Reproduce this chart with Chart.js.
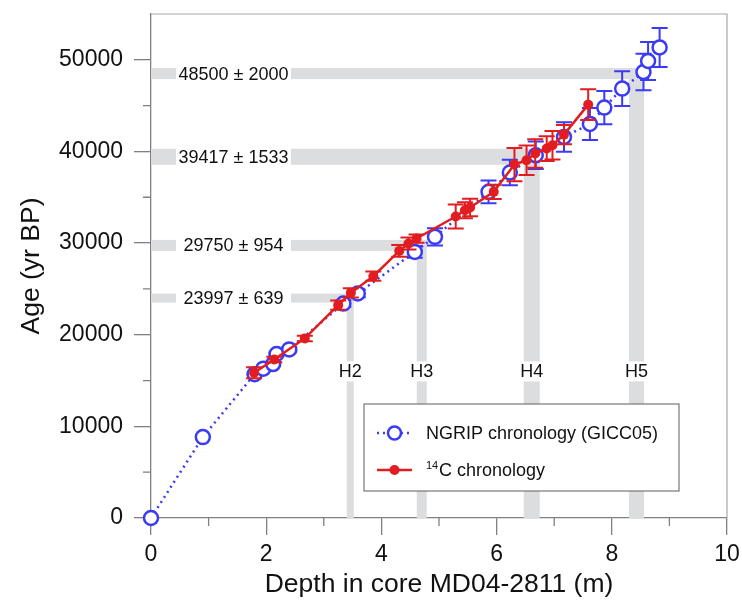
<!DOCTYPE html>
<html>
<head>
<meta charset="utf-8">
<script src="https://cdn.jsdelivr.net/npm/chart.js@4.4.1/dist/chart.umd.min.js"></script>
<style>
  html, body { margin: 0; padding: 0; background: #fff; }
  canvas { display: block; }
</style>
</head>
<body>
<canvas id="chart" width="742" height="606"></canvas>
<script>
// NGRIP chronology (GICC05) tie points
const ngripDepth = [0, 0.90, 1.80, 1.95, 2.12, 2.18, 2.40, 3.34, 3.59, 4.58, 4.93, 5.86, 6.23, 6.68, 7.17, 7.62, 7.87, 8.18, 8.55, 8.63, 8.83];
const ngripAge   = [0, 8830, 15700, 16300, 16800, 17900, 18400, 23400, 24500, 29040, 30680, 35590, 37700, 39580, 41580, 43000, 44790, 46860, 48670, 49870, 51350];
const ngripErr   = [0, 0, 100, 100, 150, 150, 200, 350, 400, 650, 950, 1250, 1400, 1500, 1600, 1750, 1820, 1900, 2000, 2070, 2130];

// 14C chronology
const c14Depth = [1.79, 2.14, 2.67, 3.25, 3.47, 3.86, 4.31, 4.47, 4.61, 5.29, 5.45, 5.54, 5.95, 6.31, 6.52, 6.67, 6.87, 6.97, 7.17, 7.59];
const c14Age   = [15850, 17300, 19600, 23230, 24570, 26390, 29150, 29960, 30500, 32900, 33590, 33880, 35590, 38570, 39040, 39770, 40320, 40680, 41840, 45110];
const c14Err   = [600, 300, 300, 500, 500, 500, 650, 650, 450, 1300, 870, 950, 780, 1820, 1600, 1550, 1350, 1550, 1050, 1690];

// Heinrich events
const eventNames  = ['H2', 'H3', 'H4', 'H5'];
const eventDepth  = [3.46, 4.70, 6.61, 8.43];
const eventAge    = [23997, 29750, 39417, 48500];
const eventAgeErr = [639, 954, 1533, 2000];

const xTicks = [0, 2, 4, 6, 8, 10];
const yTicks = [0, 10000, 20000, 30000, 40000, 50000];
const xMinorTicks = [1, 3, 5, 7, 9];
const yMinorTicks = [5000, 15000, 25000, 35000, 45000];

// styling
const FONT = "'Liberation Sans', Arial, Helvetica, sans-serif";
const BLUE = '#3b3bf5';
const RED = '#e21d1f';
const BAND = '#dcdddf';
const hBandPx = [9, 11, 16, 11];
const vBandPx = [7, 10, 16, 15];

function toPoints(xs, ys) {
    return xs.map((x, i) => ({ x: x, y: ys[i] }));
}

function noEdgePadding(scale) {
    scale.paddingTop = 0;
    scale.paddingBottom = 0;
    scale.paddingLeft = 0;
    scale.paddingRight = 0;
}

const bandsPlugin = {
    id: 'bands',
    beforeDatasetsDraw(chart) {
        const { ctx, chartArea, scales } = chart;
        const xs = scales.x, ys = scales.y;
        ctx.save();
        ctx.fillStyle = BAND;
        eventAge.forEach((age, i) => {
            const yc = ys.getPixelForValue(age);
            const xc = xs.getPixelForValue(eventDepth[i]);
            const hh = hBandPx[i], vw = vBandPx[i];
            // horizontal band from axis to the event column
            ctx.fillRect(chartArea.left, yc - hh / 2, xc + vw / 2 - chartArea.left, hh);
            // vertical band from bottom up to the horizontal band
            ctx.fillRect(xc - vw / 2, yc - hh / 2, vw, chartArea.bottom - (yc - hh / 2));
        });
        // labels with white gaps
        ctx.font = '18px ' + FONT;
        ctx.textBaseline = 'middle';
        ctx.textAlign = 'center';
        eventAge.forEach((age, i) => {
            const yc = ys.getPixelForValue(age);
            const gx0 = chartArea.left + 25, gx1 = chartArea.left + 140;
            ctx.fillStyle = '#fff';
            ctx.fillRect(gx0, yc - 9, gx1 - gx0, 18);
            ctx.fillStyle = '#111';
            ctx.fillText(age + ' \u00b1 ' + eventAgeErr[i], (gx0 + gx1) / 2, yc + 1);

            const xc = xs.getPixelForValue(eventDepth[i]);
            const ly = ys.getPixelForValue(16000);
            ctx.fillStyle = '#fff';
            ctx.fillRect(xc - 12, ly - 10, 24, 20);
            ctx.fillStyle = '#111';
            ctx.fillText(eventNames[i], xc, ly + 1);
        });
        ctx.restore();
    }
};

const errorBarsPlugin = {
    id: 'errorBars',
    beforeDatasetDraw(chart, args) {
        const ds = chart.data.datasets[args.index];
        if (!ds.err) return;
        const { ctx, scales } = chart;
        ctx.save();
        ctx.strokeStyle = ds.borderColor;
        ctx.lineWidth = 2;
        ds.data.forEach((p, i) => {
            const e = ds.err[i];
            if (!e) return;
            const x = scales.x.getPixelForValue(p.x);
            const y0 = scales.y.getPixelForValue(p.y - e);
            const y1 = scales.y.getPixelForValue(p.y + e);
            ctx.beginPath();
            ctx.moveTo(x, y0); ctx.lineTo(x, y1);
            ctx.moveTo(x - 8, y0); ctx.lineTo(x + 8, y0);
            ctx.moveTo(x - 8, y1); ctx.lineTo(x + 8, y1);
            ctx.stroke();
        });
        ctx.restore();
    }
};

const framePlugin = {
    id: 'frame',
    afterDraw(chart) {
        const { ctx, chartArea, scales } = chart;
        ctx.save();
        // light top and right border
        ctx.strokeStyle = '#a8a8a8';
        ctx.lineWidth = 1.2;
        ctx.beginPath();
        ctx.moveTo(chartArea.left, chartArea.top);
        ctx.lineTo(chartArea.right, chartArea.top);
        ctx.lineTo(chartArea.right, chartArea.bottom);
        ctx.stroke();
        // minor ticks
        ctx.strokeStyle = '#808080';
        ctx.lineWidth = 1.3;
        ctx.beginPath();
        xMinorTicks.forEach(v => {
            const x = scales.x.getPixelForValue(v);
            ctx.moveTo(x, chartArea.bottom);
            ctx.lineTo(x, chartArea.bottom + 8);
        });
        yMinorTicks.forEach(v => {
            const y = scales.y.getPixelForValue(v);
            ctx.moveTo(chartArea.left, y);
            ctx.lineTo(chartArea.left - 8, y);
        });
        ctx.stroke();

        // legend
        const lx = chartArea.left + 213, ly = chartArea.top + 390;
        ctx.fillStyle = '#fff';
        ctx.fillRect(lx, ly, 315, 87);
        ctx.strokeStyle = '#777';
        ctx.lineWidth = 1.2;
        ctx.strokeRect(lx, ly, 315, 87);

        const r1 = ly + 29, r2 = ly + 66;
        ctx.strokeStyle = BLUE;
        ctx.lineWidth = 2.5;
        ctx.setLineDash([2, 4]);
        ctx.beginPath();
        ctx.moveTo(lx + 13, r1); ctx.lineTo(lx + 48, r1);
        ctx.stroke();
        ctx.setLineDash([]);
        ctx.fillStyle = '#fff';
        ctx.beginPath();
        ctx.arc(lx + 30.5, r1, 6.5, 0, Math.PI * 2);
        ctx.fill(); ctx.stroke();

        ctx.strokeStyle = RED;
        ctx.fillStyle = RED;
        ctx.beginPath();
        ctx.moveTo(lx + 13, r2); ctx.lineTo(lx + 48, r2);
        ctx.stroke();
        ctx.beginPath();
        ctx.arc(lx + 30.5, r2, 5, 0, Math.PI * 2);
        ctx.fill();

        ctx.fillStyle = '#111';
        ctx.textAlign = 'left';
        ctx.textBaseline = 'middle';
        ctx.font = '18px ' + FONT;
        ctx.fillText('NGRIP chronology (GICC05)', lx + 62, r1 + 1);
        ctx.font = '11px ' + FONT;
        ctx.fillText('14', lx + 62, r2 - 4);
        ctx.font = '18px ' + FONT;
        ctx.fillText('C chronology', lx + 75, r2 + 1);
        ctx.restore();
    }
};

new Chart(document.getElementById('chart'), {
    type: 'scatter',
    data: {
        datasets: [
            {
                label: '14C chronology',
                data: toPoints(c14Depth, c14Age),
                err: c14Err,
                showLine: true,
                borderColor: RED,
                backgroundColor: RED,
                borderWidth: 2.5,
                pointRadius: 5,
                pointBorderWidth: 0,
                pointBackgroundColor: RED,
                clip: false
            },
            {
                label: 'NGRIP chronology (GICC05)',
                data: toPoints(ngripDepth, ngripAge),
                err: ngripErr,
                showLine: true,
                borderColor: BLUE,
                backgroundColor: '#fff',
                borderWidth: 2.5,
                borderDash: [2, 4],
                pointRadius: 7,
                pointBorderWidth: 2.5,
                pointBackgroundColor: '#fff',
                pointBorderColor: BLUE,
                clip: false
            }
        ]
    },
    options: {
        responsive: false,
        animation: false,
        layout: { padding: { left: 0, right: 15, top: 14, bottom: 0 } },
        plugins: {
            legend: { display: false },
            tooltip: { enabled: false }
        },
        scales: {
            x: {
                type: 'linear',
                min: 0,
                max: 10,
                afterBuildTicks: scale => { scale.ticks = xTicks.map(v => ({ value: v })); },
                afterFit: scale => { scale.height = 88; noEdgePadding(scale); },
                grid: { drawOnChartArea: false, drawTicks: true, tickLength: 17, color: '#808080', lineWidth: 1.3 },
                border: { color: '#808080', width: 1.3 },
                ticks: { color: '#111', padding: 6, font: { family: FONT, size: 23 }, callback: v => String(v) },
                title: {
                    display: true,
                    text: 'Depth in core MD04-2811 (m)',
                    color: '#111',
                    font: { family: FONT, size: 26.5 },
                    padding: { top: 0, bottom: 5 }
                }
            },
            y: {
                type: 'linear',
                min: 0,
                max: 55000,
                afterBuildTicks: scale => { scale.ticks = yTicks.map(v => ({ value: v })); },
                afterFit: scale => { scale.width = 151; noEdgePadding(scale); },
                grid: { drawOnChartArea: false, drawTicks: true, tickLength: 17, color: '#808080', lineWidth: 1.3 },
                border: { color: '#808080', width: 1.3 },
                ticks: { color: '#111', padding: 11, font: { family: FONT, size: 23 }, callback: v => String(v) },
                title: {
                    display: true,
                    text: 'Age (yr BP)',
                    color: '#111',
                    font: { family: FONT, size: 26.5 },
                    padding: { top: 16, bottom: 0 }
                }
            }
        }
    },
    plugins: [bandsPlugin, errorBarsPlugin, framePlugin]
});
</script>
</body>
</html>
